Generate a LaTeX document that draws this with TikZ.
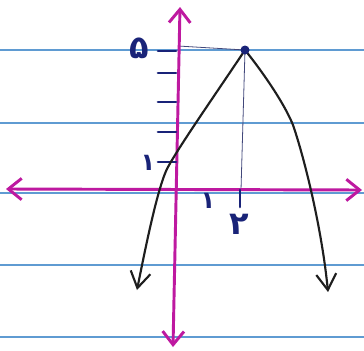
\documentclass[tikz,border=0pt]{standalone}
\usepackage{fontspec}
\newfontfamily\fadigits[Script=Arabic]{DejaVu Sans}
\usetikzlibrary{arrows.meta}
\definecolor{paperline}{RGB}{95,155,210}
\definecolor{axispink}{RGB}{190,25,160}
\definecolor{inkblue}{RGB}{25,35,120}
\definecolor{pencil}{RGB}{30,30,30}
\tikzset{
  ruled/.style={paperline, line width=0.9pt},
  axisline/.style={axispink, line width=2.2pt, line cap=round, {Straight Barb[length=10pt,width=16pt]}-{Straight Barb[length=10pt,width=16pt]}},
  tickmark/.style={inkblue, line width=2pt, line cap=round},
  guide/.style={inkblue!60!gray, line width=0.6pt},
  graphline/.style={pencil, line width=1.6pt, line cap=round, -{Straight Barb[length=12pt,width=15pt]}},
  digit/.style={inkblue, font=\fadigits\bfseries\fontsize{18}{18}\selectfont, inner sep=0pt},
  bigdigit/.style={digit, font=\fadigits\bfseries\fontsize{24}{24}\selectfont},
}
\begin{document}
\begin{tikzpicture}[x=0.75pt,y=-0.75pt]
\useasboundingbox (0,0) rectangle (364,350);
\fill[white] (0,0) rectangle (364,350);
% ruled paper lines
\foreach \yy in {50,123,193,265,337} \draw[ruled] (0,\yy) -- (364,\yy);
% coordinates
\coordinate (L) at (6,189);
\coordinate (R) at (362,190);
\coordinate (T) at (180,7);
\coordinate (B) at (173,347);
\coordinate (V) at (245,50);
\coordinate (Y5) at (178,46);
\coordinate (X2) at (241,190);
\coordinate (LB) at (168,167);
\coordinate (LE) at (137,290);
\coordinate (RB) at (293,125);
\coordinate (RE) at (328,292);
% guide lines
\draw[guide] (Y5) -- (V);
\draw[guide] (V) -- (X2);
% axes
\draw[axisline] (L) -- (R);
\draw[axisline] (B) -- (T);
% y ticks
\foreach \yy in {51,73,102,132,162} \draw[tickmark] (158,\yy) -- (176,\yy);
% x tick at 2
\draw[tickmark] (240,190) -- (240,207);
% labels
\node[bigdigit] (l5) at (139,48) {۵};
\node[digit] (ly1) at (148,163) {۱};
\node[digit] (lx1) at (208,201) {۱};
\node[bigdigit] (lx2) at (239,224) {۲};
% parabola
\draw[graphline] (V) .. controls (215,95) and (180,145) .. (LB) .. controls (158,185) and (145,250) .. (LE);
\draw[graphline] (V) .. controls (265,75) and (285,105) .. (RB) .. controls (305,160) and (322,230) .. (RE);
% vertex
\fill[inkblue] (V) circle (4.5);
\end{tikzpicture}
\end{document}
